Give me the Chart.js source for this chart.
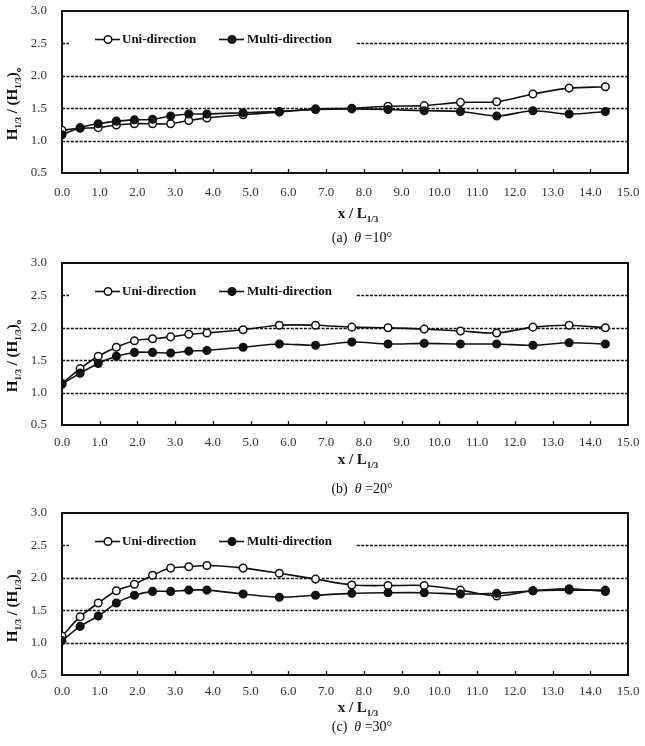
<!DOCTYPE html>
<html>
<head>
<meta charset="utf-8">
<script src="https://cdn.jsdelivr.net/npm/chart.js@4.4.0/dist/chart.umd.min.js"></script>
<style>
    body { margin: 0; background: #fff; width: 645px; height: 746px; position: relative; overflow: hidden; }
    canvas { position: absolute; left: 0; }
</style>
</head>
<body>
<canvas id="chartA" width="645" height="250" style="top:0"></canvas>
<canvas id="chartB" width="645" height="250" style="top:252px"></canvas>
<canvas id="chartC" width="645" height="244" style="top:502px"></canvas>
<script>
// x / L1/3 stations
const xStations = [0, 0.48, 0.96, 1.44, 1.92, 2.40, 2.88, 3.36, 3.84, 4.80, 5.76, 6.72, 7.68, 8.64, 9.60, 10.56, 11.52, 12.48, 13.44, 14.40];

const seriesNames = ['Uni-direction', 'Multi-direction'];

// theta = 10
const uni10   = [1.16, 1.19, 1.20, 1.24, 1.26, 1.26, 1.26, 1.31, 1.35, 1.40, 1.44, 1.49, 1.50, 1.53, 1.54, 1.59, 1.60, 1.72, 1.81, 1.83];
const multi10 = [1.09, 1.20, 1.26, 1.30, 1.32, 1.33, 1.38, 1.41, 1.41, 1.43, 1.45, 1.48, 1.49, 1.48, 1.46, 1.45, 1.38, 1.46, 1.41, 1.45];
// theta = 20
const uni20   = [1.14, 1.37, 1.56, 1.70, 1.80, 1.83, 1.86, 1.90, 1.92, 1.97, 2.04, 2.04, 2.01, 2.00, 1.98, 1.95, 1.92, 2.01, 2.04, 2.00];
const multi20 = [1.13, 1.30, 1.45, 1.56, 1.62, 1.62, 1.61, 1.64, 1.65, 1.70, 1.75, 1.73, 1.78, 1.75, 1.76, 1.75, 1.75, 1.73, 1.77, 1.75];
// theta = 30
const uni30   = [1.10, 1.40, 1.61, 1.80, 1.90, 2.04, 2.15, 2.17, 2.19, 2.15, 2.07, 1.98, 1.89, 1.88, 1.88, 1.81, 1.72, 1.80, 1.81, 1.81];
const multi30 = [1.03, 1.25, 1.41, 1.61, 1.73, 1.79, 1.79, 1.81, 1.81, 1.75, 1.70, 1.73, 1.76, 1.77, 1.77, 1.75, 1.76, 1.80, 1.83, 1.79];

const panelLetters = ['(a)', '(b)', '(c)'];
const panelAngles = ['=10°', '=20°', '=30°'];

const SERIF = '"Liberation Serif", "Times New Roman", serif';

function toPoints(ys) {
    return xStations.map((x, i) => ({ x: x, y: ys[i] }));
}

function drawParts(ctx, parts, cx, baseline) {
    let w = 0;
    parts.forEach(p => { ctx.font = p.font; w += ctx.measureText(p.text).width; });
    let x = cx - w / 2;
    ctx.textAlign = 'left';
    ctx.textBaseline = 'alphabetic';
    parts.forEach(p => {
        ctx.font = p.font;
        ctx.fillText(p.text, x, baseline + (p.dy || 0));
        x += ctx.measureText(p.text).width;
    });
}

const panelDecor = {
    id: 'panelDecor',
    beforeDatasetsDraw(chart, args, opts) {
        const ctx = chart.ctx;
        const area = chart.chartArea;
        const ys = chart.scales.y;
        const xs = chart.scales.x;
        ctx.save();
        // dashed grid lines
        ctx.strokeStyle = '#111';
        ctx.lineWidth = 1.6;
        ctx.setLineDash([3, 1.4]);
        ys.ticks.forEach(t => {
            if (t.value <= ys.min || t.value >= ys.max) return;
            const py = Math.round(ys.getPixelForValue(t.value)) + 0.5;
            ctx.beginPath();
            ctx.moveTo(area.left, py);
            ctx.lineTo(area.right, py);
            ctx.stroke();
        });
        ctx.setLineDash([]);
        // white box behind legend
        ctx.fillStyle = '#fff';
        ctx.fillRect(69, 27, 287, 25);
        // frame
        ctx.strokeStyle = '#111';
        ctx.lineWidth = 2;
        ctx.strokeRect(area.left, area.top, area.right - area.left, area.bottom - area.top);
        // inward x ticks
        ctx.lineWidth = 1.3;
        xs.ticks.forEach(t => {
            if (t.value <= xs.min || t.value >= xs.max) return;
            const px = Math.round(xs.getPixelForValue(t.value)) + 0.5;
            ctx.beginPath();
            ctx.moveTo(px, area.bottom);
            ctx.lineTo(px, area.bottom - 4);
            ctx.stroke();
        });
        // legend
        const legendItems = [
            { ds: chart.data.datasets[0], x0: 95, x1: 120, mx: 108, tx: 122 },
            { ds: chart.data.datasets[1], x0: 219, x1: 244, mx: 232, tx: 247 }
        ];
        const ly = 39.5;
        legendItems.forEach(it => {
            ctx.strokeStyle = it.ds.borderColor;
            ctx.lineWidth = it.ds.borderWidth;
            ctx.beginPath();
            ctx.moveTo(it.x0, ly);
            ctx.lineTo(it.x1, ly);
            ctx.stroke();
            ctx.beginPath();
            ctx.arc(it.mx, ly, it.ds.pointRadius, 0, Math.PI * 2);
            ctx.fillStyle = it.ds.pointBackgroundColor;
            ctx.fill();
            ctx.lineWidth = it.ds.pointBorderWidth;
            ctx.strokeStyle = it.ds.pointBorderColor;
            ctx.stroke();
            ctx.fillStyle = '#111';
            ctx.font = 'bold 13px ' + SERIF;
            ctx.textAlign = 'left';
            ctx.textBaseline = 'middle';
            ctx.fillText(it.ds.label, it.tx, ly + 0.5);
        });
        ctx.restore();
    },
    afterDraw(chart, args, opts) {
        const ctx = chart.ctx;
        ctx.save();
        ctx.fillStyle = '#111';
        // y title
        ctx.translate(17, 104);
        ctx.rotate(-Math.PI / 2);
        drawParts(ctx, [
            { text: 'H', font: 'bold 15px ' + SERIF },
            { text: '1/3', font: 'bold 9px ' + SERIF, dy: 4 },
            { text: ' / (H', font: 'bold 15px ' + SERIF },
            { text: '1/3', font: 'bold 9px ' + SERIF, dy: 4 },
            { text: ')', font: 'bold 15px ' + SERIF },
            { text: 'o', font: 'bold 9px ' + SERIF, dy: 4 }
        ], 0, 0);
        ctx.setTransform(1, 0, 0, 1, 0, 0);
        // x title
        drawParts(ctx, [
            { text: 'x / L', font: 'bold 15px ' + SERIF },
            { text: '1/3', font: 'bold 9px ' + SERIF, dy: 4 }
        ], 358, opts.xTitleY);
        // caption
        drawParts(ctx, [
            { text: opts.letter + '  ', font: '14px ' + SERIF },
            { text: 'θ', font: 'italic 14px ' + SERIF },
            { text: ' ' + opts.angle, font: '14px ' + SERIF }
        ], 362, opts.captionY);
        ctx.restore();
    }
};

function makePanel(canvasId, uni, multi, idx, tickPad, xTitleY, captionY) {
    const canvas = document.getElementById(canvasId);
    const H = canvas.height;
    return new Chart(canvas.getContext('2d'), {
        type: 'line',
        data: {
            datasets: [
                {
                    label: seriesNames[0],
                    data: toPoints(uni),
                    borderColor: '#111',
                    borderWidth: 1.6,
                    pointRadius: 3.8,
                    pointBackgroundColor: '#fff',
                    pointBorderColor: '#111',
                    pointBorderWidth: 1.5,
                    tension: 0.3,
                    order: 1
                },
                {
                    label: seriesNames[1],
                    data: toPoints(multi),
                    borderColor: '#111',
                    borderWidth: 1.6,
                    pointRadius: 3.8,
                    pointBackgroundColor: '#111',
                    pointBorderColor: '#111',
                    pointBorderWidth: 1.5,
                    tension: 0.3,
                    order: 0
                }
            ]
        },
        options: {
            responsive: false,
            animation: false,
            devicePixelRatio: 1,
            layout: { padding: { top: 11, right: 17, left: 0, bottom: 0 } },
            plugins: {
                legend: { display: false },
                tooltip: { enabled: false },
                panelDecor: {
                    letter: panelLetters[idx],
                    angle: panelAngles[idx],
                    xTitleY: xTitleY,
                    captionY: captionY
                }
            },
            scales: {
                x: {
                    type: 'linear',
                    min: 0,
                    max: 15,
                    grid: { display: false, drawTicks: false },
                    border: { display: false },
                    ticks: {
                        stepSize: 1,
                        padding: tickPad,
                        maxRotation: 0,
                        color: '#333',
                        font: { family: SERIF, size: 13 },
                        callback: v => v.toFixed(1)
                    },
                    afterFit: s => {
                        s.height = H - 173;
                        s.paddingLeft = 0;
                        s.paddingRight = 0;
                    }
                },
                y: {
                    min: 0.5,
                    max: 3.0,
                    grid: { display: false, drawTicks: false },
                    border: { display: false },
                    ticks: {
                        stepSize: 0.5,
                        padding: 15,
                        color: '#333',
                        font: { family: SERIF, size: 13 },
                        callback: v => v.toFixed(1)
                    },
                    afterFit: s => {
                        s.width = 62;
                        s.paddingTop = 0;
                        s.paddingBottom = 0;
                    }
                }
            }
        },
        plugins: [panelDecor]
    });
}

makePanel('chartA', uni10, multi10, 0, 12, 218, 242);
makePanel('chartB', uni20, multi20, 1, 10, 212, 241);
makePanel('chartC', uni30, multi30, 2, 9, 210, 229);
</script>
</body>
</html>
